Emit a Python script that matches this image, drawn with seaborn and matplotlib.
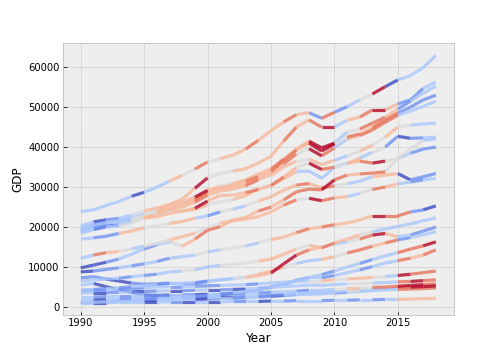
import numpy as np
import pandas as pd
import matplotlib
matplotlib.use("Agg")
import matplotlib.pyplot as plt
import seaborn as sns

# GDP (thousands) for each country line, 1990-2018
years = list(range(1990, 2019))

gdp_k = [
    [23.9, 24.3, 25.4, 26.4, 27.7, 28.7, 30.0, 31.5, 32.9, 34.5, 36.3, 37.1, 38.0, 39.5, 41.7, 44.1, 46.3, 48.1, 48.6, 47.2, 48.7, 50.1, 51.8, 53.3, 55.1, 56.8, 57.9, 59.9, 62.9],
    [19.5, 20.3, 21.0, 21.6, 22.5, 23.5, 24.3, 25.6, 27.0, 29.7, 32.3, 33.4, 34.0, 34.6, 36.0, 37.7, 41.5, 45.0, 46.8, 45.0, 45.0, 46.7, 47.5, 49.3, 49.3, 50.8, 51.8, 54.7, 56.3],
    [20.3, 21.3, 21.8, 22.2, 23.0, 24.0, 24.8, 25.6, 26.3, 27.5, 29.2, 30.2, 30.9, 31.8, 33.3, 34.5, 37.0, 39.5, 41.5, 39.8, 41.0, 43.8, 44.5, 46.0, 47.5, 49.5, 51.5, 53.5, 55.3],
    [19.0, 19.8, 20.3, 20.5, 21.5, 22.6, 23.4, 24.5, 25.6, 26.8, 28.8, 29.8, 30.6, 31.4, 32.6, 33.9, 36.6, 39.3, 41.0, 39.0, 40.8, 42.5, 43.3, 44.9, 46.8, 48.5, 50.0, 51.8, 53.0],
    [18.6, 19.5, 20.2, 20.5, 21.4, 22.4, 23.1, 24.2, 25.0, 26.2, 28.0, 29.0, 29.5, 30.4, 31.8, 33.3, 35.8, 38.3, 39.6, 37.8, 39.8, 42.0, 42.9, 44.3, 46.2, 48.0, 49.0, 50.2, 51.5],
    [19.8, 20.6, 21.2, 21.5, 22.0, 22.8, 23.7, 24.9, 25.6, 26.9, 28.5, 29.5, 30.0, 30.7, 32.1, 32.9, 35.0, 36.5, 37.0, 35.6, 36.7, 37.8, 39.0, 40.5, 42.5, 45.0, 45.5, 45.8, 46.0],
    [19.2, 20.4, 21.0, 21.3, 21.8, 22.6, 23.7, 24.1, 24.0, 24.4, 25.6, 26.3, 26.9, 27.8, 29.6, 30.4, 32.1, 33.9, 34.0, 32.2, 34.9, 35.8, 37.3, 38.7, 40.0, 42.7, 42.2, 42.3, 42.5],
    [18.5, 19.4, 20.0, 20.3, 21.0, 22.2, 22.6, 23.4, 24.0, 24.7, 26.5, 27.9, 28.0, 28.6, 29.4, 30.4, 32.5, 34.9, 36.0, 34.4, 35.0, 36.0, 36.5, 36.0, 36.5, 37.2, 38.5, 39.5, 40.0],
    [17.0, 17.3, 17.7, 18.4, 19.0, 19.8, 20.3, 20.9, 21.4, 22.2, 22.8, 23.8, 24.5, 25.3, 26.5, 27.6, 29.2, 30.5, 30.9, 29.8, 30.3, 30.8, 31.5, 32.6, 33.0, 33.4, 31.8, 32.6, 33.4],
    [12.2, 13.0, 13.6, 13.9, 14.5, 15.2, 15.9, 16.8, 17.6, 18.5, 19.8, 21.0, 21.6, 22.0, 22.6, 23.8, 25.5, 26.8, 27.2, 26.6, 27.3, 27.6, 28.4, 29.4, 30.0, 30.8, 31.3, 31.8, 32.2],
    [9.8, 10.5, 11.2, 12.0, 13.2, 14.5, 15.6, 16.3, 15.2, 17.0, 19.2, 20.1, 21.8, 22.4, 24.0, 25.0, 26.8, 28.8, 29.5, 29.3, 31.8, 33.0, 33.3, 33.5, 33.8, 37.2, 39.5, 41.7, 42.0],
    [8.8, 9.0, 9.4, 9.8, 10.3, 10.8, 11.4, 12.2, 12.6, 13.0, 13.8, 14.3, 14.8, 15.3, 16.0, 16.9, 17.5, 18.6, 19.6, 20.0, 20.6, 21.0, 21.8, 22.8, 22.8, 22.8, 23.8, 24.3, 25.3],
    [7.3, 7.6, 7.0, 6.5, 6.0, 5.7, 5.8, 6.0, 5.6, 5.8, 6.4, 6.8, 7.1, 7.4, 7.9, 8.5, 10.8, 13.0, 14.3, 15.0, 15.8, 16.3, 17.0, 18.0, 18.4, 17.6, 18.0, 19.0, 20.0],
    [6.5, 6.8, 7.0, 7.2, 7.6, 7.9, 8.2, 8.8, 9.0, 9.3, 10.0, 10.4, 10.6, 11.0, 11.5, 12.0, 13.2, 14.5, 15.5, 14.8, 16.0, 17.0, 18.0, 18.8, 19.5, 20.2, 20.8, 21.6, 22.3],
    [4.3, 4.4, 4.6, 4.8, 5.1, 5.3, 5.6, 5.9, 6.0, 6.1, 6.5, 6.8, 7.1, 7.5, 8.2, 9.0, 9.9, 10.9, 11.6, 11.9, 12.6, 13.5, 14.3, 15.2, 16.0, 16.8, 17.4, 18.1, 18.8],
    [1.1, 1.2, 1.3, 1.5, 1.7, 1.9, 2.1, 2.3, 2.5, 2.7, 2.9, 3.2, 3.5, 3.9, 4.4, 5.0, 5.7, 6.6, 7.4, 8.1, 9.0, 10.0, 10.9, 11.9, 12.8, 13.6, 14.5, 15.3, 16.3],
    [5.5, 5.9, 5.1, 4.3, 3.7, 3.0, 2.9, 2.8, 2.7, 2.7, 2.8, 3.1, 3.4, 3.8, 4.3, 5.0, 5.8, 6.7, 7.4, 7.3, 7.9, 8.6, 9.3, 10.1, 11.0, 11.6, 12.2, 13.0, 14.3],
    [4.3, 4.3, 4.3, 4.4, 4.6, 4.8, 5.0, 5.1, 5.1, 5.2, 5.3, 5.4, 5.5, 5.6, 5.8, 6.0, 6.2, 6.4, 6.6, 6.6, 6.8, 7.0, 7.2, 7.4, 7.6, 7.9, 8.2, 8.6, 9.0],
    [3.5, 3.6, 3.6, 3.7, 3.8, 3.9, 4.0, 4.1, 4.1, 4.2, 4.3, 4.3, 4.4, 4.5, 4.7, 4.9, 5.1, 5.3, 5.5, 5.4, 5.6, 5.8, 5.9, 6.0, 6.1, 6.3, 6.4, 6.6, 6.8],
    [2.5, 2.5, 2.6, 2.7, 2.7, 2.8, 2.9, 3.0, 3.0, 3.1, 3.2, 3.2, 3.3, 3.4, 3.5, 3.7, 3.8, 4.0, 4.2, 4.2, 4.4, 4.6, 4.7, 4.9, 5.0, 5.2, 5.4, 5.6, 5.8],
    [1.8, 1.8, 1.9, 1.9, 2.0, 2.1, 2.2, 2.2, 2.3, 2.3, 2.4, 2.5, 2.5, 2.6, 2.7, 2.9, 3.1, 3.3, 3.5, 3.6, 3.8, 4.0, 4.2, 4.4, 4.6, 4.8, 5.0, 5.1, 5.3],
    [1.3, 1.3, 1.4, 1.4, 1.5, 1.6, 1.7, 1.8, 1.9, 1.9, 2.0, 2.1, 2.2, 2.3, 2.5, 2.7, 2.9, 3.1, 3.2, 3.3, 3.5, 3.7, 3.9, 4.1, 4.3, 4.4, 4.5, 4.6, 4.8],
    [1.1, 1.1, 1.1, 1.2, 1.2, 1.2, 1.2, 1.3, 1.3, 1.3, 1.3, 1.3, 1.4, 1.4, 1.4, 1.5, 1.5, 1.6, 1.6, 1.6, 1.7, 1.7, 1.8, 1.8, 1.9, 1.9, 2.0, 2.1, 2.2],
]

# colour level of each yearly segment (-3 dark blue ... 0 grey ... 3 dark red)
seg_level = [
    [-1, -1, -1, -1, -3, -1, -1, 1, 0, 2, 0, 1, 1, 2, 1, 1, 2, 1, -2, 2, -2, -1, 0, 3, -3, -1, -1, -1],
    [-1, -3, -2, -1, -1, 0, 1, 1, 1, 3, 0, 0, 1, 1, 1, 1, 2, 1, 2, 3, -1, 1, 2, 3, 1, -2, -2, -1],
    [-1, -3, -2, -1, 0, 1, 1, 1, 1, 3, 1, 0, 1, 1, 1, 2, 1, 1, 3, 3, -1, 0, 2, 2, 1, -2, -1, -1],
    [-1, -2, -3, -1, -1, 0, 1, 1, 1, 2, 1, 1, 1, 2, 1, 2, 2, 1, 3, 3, 0, 2, 1, 2, 2, -2, -2, -2],
    [-1, -3, -2, -1, 0, 1, 0, 1, 1, 2, 1, 1, 1, 2, 1, 1, 2, 0, 3, 2, -1, 1, 2, 2, 2, -1, -1, -1],
    [-1, -2, -1, -1, 0, 0, 1, 1, 0, 1, 0, 1, 1, 1, 0, 1, 1, 0, 1, 1, -1, 0, 1, 0, 1, 0, -1, -1],
    [-2, -1, -1, -1, 0, -1, 0, 0, 1, 1, 0, 0, 1, 1, 0, 1, 1, -1, -1, -1, 0, 1, -1, 0, -2, -3, -2, -1],
    [-1, -2, -1, 0, 0, 1, 1, 1, 1, 3, 1, 1, 1, 2, 1, 2, 1, 0, 3, 2, -1, 1, 2, 3, 0, -1, -2, -2],
    [-1, -2, -2, 1, 1, 0, 0, 1, 1, -1, -2, 0, -1, 0, 1, 1, 1, 2, 1, 2, 0, -1, -1, 1, 1, -3, -2, -2],
    [-1, 2, 1, 0, -1, 0, 0, 1, 1, 0, 0, 1, 1, 1, 1, 1, 2, 0, 3, 2, 1, -1, 0, 2, 1, -1, -2, -1],
    [-3, -3, -2, -1, -1, -2, -1, 0, 1, 2, 2, 1, 1, 1, 2, 1, 2, 2, 2, 3, 2, 1, 2, 2, 0, 0, 0, -1],
    [-3, -2, -2, -1, -2, -1, -2, -1, -1, 0, -1, 0, 0, -1, 0, 1, 1, 2, 1, 2, 1, 1, 1, 3, 2, 2, -2, -3],
    [-2, -2, -3, -3, -2, -2, -2, -1, -2, -2, -1, -1, 0, 1, 1, 3, 3, 2, 1, 0, -1, 0, 2, 3, 1, -1, -2, -2],
    [-1, -1, -1, -2, -1, -2, -1, -1, 0, -1, -1, 0, 0, 0, 1, 1, 1, 0, 1, 2, 1, 1, 0, -1, -1, -1, -1, -1],
    [-1, -2, -1, -2, -1, -1, -2, -1, -1, -2, -1, -1, -1, 0, 1, 1, 0, -1, -1, 1, 0, 2, 2, 1, 2, -2, -1, -1],
    [-2, -1, -2, -2, -1, -2, -2, -1, -2, -2, -1, -2, -1, -1, -1, -2, -2, -1, -1, -2, -1, -1, -2, -1, -1, 2, 2, 3],
    [-1, -3, -3, -3, -2, -3, -2, -2, -1, -2, -2, -3, -2, -2, -2, -1, -1, -2, -1, -2, -1, -1, -2, -1, -1, 2, 1, 2],
    [-2, -2, -1, -2, -2, -1, -1, -2, -1, -2, -2, -1, -1, -2, -1, -1, -1, -1, 0, 1, 0, 1, 1, 0, -1, 3, 2, 2],
    [-1, -3, -2, -1, -3, -2, -1, -3, -2, -1, -3, -2, -3, -1, -2, -1, -1, -1, -1, -1, -1, 0, 0, -1, -1, 2, 3, 2],
    [-1, -2, -1, -2, -1, -2, -3, -1, -2, -3, -1, -2, -2, -1, -2, -1, -1, -2, -1, -1, 0, 1, 0, 2, 2, 3, 3, 2],
    [-1, -3, -1, -2, -1, -2, -1, -1, -2, -3, -1, -3, -2, -1, -2, -2, -1, -1, -1, -1, -1, 0, -1, -1, -1, 2, 3, 3],
    [-1, -3, -1, -1, -1, -3, -1, -1, -1, -3, -2, -1, -2, -1, -2, -3, -2, -1, -1, -1, -2, -1, -1, -1, -1, 2, 2, 2],
    [-1, -3, -1, -1, -1, -3, -1, -2, -3, -1, -3, -1, -2, -1, -3, -1, -2, -1, -1, -2, -1, -2, -1, -2, -1, 1, 1, 1],
]

for vals, levels in zip(gdp_k, seg_level):
    assert len(vals) == len(years) and len(levels) == len(years) - 1

# long-form table: every yearly segment is its own 2-point unit
rows = []
seg_id = 0
for vals, levels in zip(gdp_k, seg_level):
    for j, lev in enumerate(levels):
        for k in (j, j + 1):
            rows.append({"Year": years[k], "GDP": vals[k] * 1000, "seg": seg_id, "level": lev})
        seg_id += 1
df = pd.DataFrame(rows)

plt.style.use("bmh")
plt.rcParams["xtick.direction"] = "in"
plt.rcParams["ytick.direction"] = "in"

fig, ax = plt.subplots(figsize=(7, 5), dpi=72)
sns.lineplot(
    data=df, x="Year", y="GDP", hue="level", units="seg", estimator=None,
    palette="coolwarm", hue_norm=(-3, 3), legend=False, sort=False,
    lw=3.2, alpha=0.8, solid_capstyle="butt", ax=ax,
)
ax.set_xlabel("Year")
ax.set_ylabel("GDP")
fig.subplots_adjust(left=0.125, right=0.9, top=0.88, bottom=0.125)
fig.savefig("out.png", dpi=72)
